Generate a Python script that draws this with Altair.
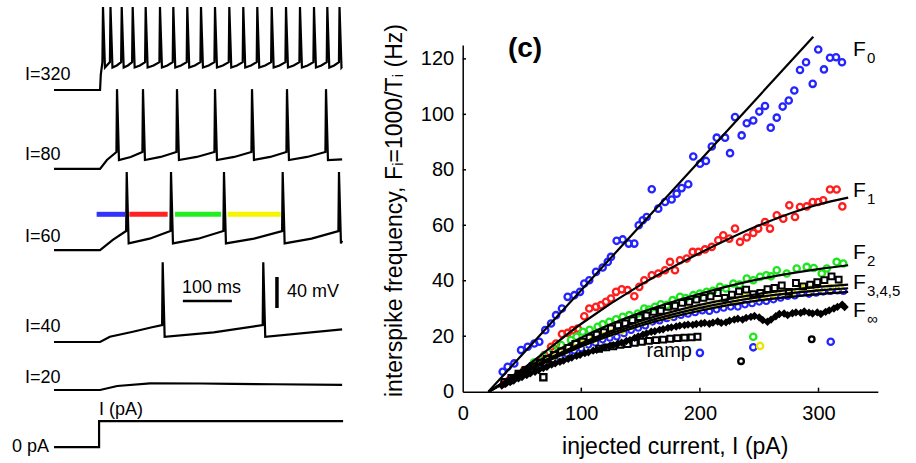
import altair as alt
import pandas as pd

FONT = "Liberation Sans"

# ---------------- figure layout (pixels) ----------------
FIG_W, FIG_H = 916, 463
PLOT_L, PLOT_T = 462.7, 45.0
PLOT_W, PLOT_H = 415.1, 346.7

# ---------------- left panel calibration ----------------
TRACE_X0 = 54.0    # pixel column of t = 0 ms
MS_PX = 0.49       # 100 ms scale bar = 49 px
TRACE_Y0 = 463.0   # pixel row of v = 0
MV_PX = 0.775      # 40 mV scale bar = 31 px
ONSET = 94.0       # current step onset (ms)
T_END = 588.0      # end of sweep (ms)

# ---------------- right panel axes ----------------
I_TICKS = [0, 100, 200, 300]
F_TICKS = [0, 20, 40, 60, 80, 100, 120]
I_MAX, F_MAX = 350, 125

# ---------------- voltage traces ----------------
TRACE_NAMES = ["I=320", "I=80", "I=60", "I=40", "I=20"]
TRACE_REST = [481.3, 379.4, 274.8, 156.1, 94.2]      # vertical offset of each sweep (mV units)
SPIKES_320 = [100.0, 115.3, 138.2, 160.6, 187.1, 216.3, 243.5, 272.0, 300.0, 328.6,
              357.8, 386.3, 414.9, 444.3, 473.5, 502.0, 530.6, 557.8, 582.7]
SPIKES_80 = [128.6, 181.6, 251.0, 328.6, 404.1, 475.5, 555.1]
SPIKES_60 = [148.4, 238.8, 346.9, 466.7, 581.6]
SPIKES_40 = [221.8, 427.1]
# (peak, trough, pre-spike level, end level) relative to rest, mV
LEVELS_320 = (107.0, 29.0, 36.0, 30.0)
LEVELS_80 = (103.0, 11.6, 21.9, 12.5)
LEVELS_60 = (100.6, 8.6, 24.5, 12.0)
LEVELS_40 = (103.0, 6.8, 21.9, 16.3)
ONSET_320 = [(95.5, 20.0)]
ONSET_80 = [(108.0, 11.6)]
ONSET_60 = [(120.0, 13.0), (141.0, 22.0)]
ONSET_40 = [(114.0, 6.8), (161.0, 13.3), (200.0, 19.0)]
TRACE_20 = [(0.0, 0.0), (94.0, 0.0), (129.0, 5.2), (196.0, 8.6), (300.0, 8.4), (366.0, 8.0), (450.0, 7.4), (588.0, 6.5)]
CURRENT_BASE, CURRENT_STEP = 20.6, 33.5
CURRENT_T = [0.0, 92.0, 92.0, 590.0]
CURRENT_ON = [0, 0, 1, 1]

# interval bars on the I=60 sweep
BAR_T0 = [87.0, 153.7, 247.0, 354.5]
BAR_T1 = [145.0, 232.0, 341.0, 462.7]
BAR_COLORS = ["#3333ff", "#ff2222", "#22ee22", "#f5f500"]
BAR_V = 320.9

# scale bars
SCALE_H = dict(t0=263.0, t1=363.0, v=209.0)
SCALE_V = dict(t=455.0, v0=200.0, v1=240.0)

LEFT_LABELS = ["I=320", "I=80", "I=60", "I=40", "I=20", "0 pA", "I (pA)", "100 ms", "40 mV"]
LEFT_LABEL_T = [-59.0, -59.0, -59.0, -59.0, -59.0, -85.7, 91.8, 261.2, 475.5]
LEFT_LABEL_V = [494.2, 391.0, 285.5, 169.4, 102.8, 14.6, 61.9, 219.0, 214.6]

# ---------------- f-I data ----------------
F0 = [(33.7, 7.2), (37.9, 9.0), (43.5, 10.2), (49.2, 15.0), (54.8, 16.2), (60.4, 17.4), (64.6, 18.0),
      (69.6, 22.2), (74.5, 24.6), (78.7, 27.6), (83.7, 30.0), (88.5, 34.2), (94.1, 34.8), (98.9, 36.0),
      (102.5, 39.0), (106.7, 40.2), (112.4, 43.2), (118.0, 44.8), (122.3, 46.8), (125.0, 48.6),
      (129.8, 54.4), (134.9, 54.9), (140.0, 53.4), (144.7, 53.4), (148.4, 60.0), (151.8, 61.8),
      (155.1, 63.0), (159.4, 73.0), (164.9, 66.0), (170.6, 68.4), (176.2, 69.3), (180.4, 71.4),
      (184.6, 73.4), (190.2, 74.8), (194.4, 84.8), (200.1, 82.2), (205.1, 83.2), (210.0, 88.4),
      (214.2, 91.6), (221.2, 91.6), (225.4, 86.0), (229.6, 99.0), (235.2, 92.4), (239.5, 96.8),
      (245.0, 97.8), (250.1, 101.0), (254.9, 103.0), (259.7, 95.2), (264.8, 98.8), (269.8, 102.8),
      (274.9, 105.0), (279.6, 108.6), (284.4, 116.0), (289.5, 118.8), (295.1, 111.0), (299.8, 123.4),
      (304.6, 116.2), (309.7, 120.4), (314.8, 120.6), (319.8, 118.8)]
F1 = [(35.0, 3.0), (39.3, 4.2), (46.4, 6.0), (51.9, 7.8), (57.6, 9.0), (63.2, 10.8), (68.8, 13.2),
      (74.5, 16.2), (78.7, 17.4), (83.7, 20.8), (88.5, 21.2), (92.7, 22.2), (97.0, 22.8), (102.5, 27.2),
      (106.7, 30.0), (112.4, 30.6), (116.6, 31.2), (120.8, 32.4), (125.0, 33.6), (129.3, 36.0),
      (134.1, 36.9), (139.1, 36.6), (144.7, 34.4), (148.9, 37.8), (153.1, 40.2), (159.4, 42.0),
      (164.9, 42.6), (170.6, 43.8), (174.8, 46.8), (179.0, 43.8), (183.2, 47.4), (188.9, 48.0),
      (193.9, 50.4), (198.7, 50.4), (204.3, 51.3), (210.0, 52.2), (215.5, 54.6), (219.7, 56.4),
      (224.8, 55.2), (229.6, 58.8), (233.8, 54.0), (239.5, 55.6), (245.0, 57.2), (249.2, 58.8),
      (254.9, 61.2), (259.1, 58.8), (264.8, 63.6), (270.3, 62.4), (275.4, 67.2), (280.2, 63.0),
      (284.4, 66.6), (290.1, 66.8), (295.1, 68.4), (299.8, 68.4), (304.0, 69.0), (309.7, 72.9),
      (315.3, 72.9), (320.1, 66.8)]
F2 = [(60.0, 10.5), (68.0, 12.8), (75.9, 15.3), (83.0, 16.8), (91.3, 18.6), (96.0, 19.8), (101.2, 21.6),
      (107.0, 22.3), (113.8, 23.4), (118.0, 24.3), (123.6, 25.2), (129.3, 26.1), (134.9, 27.0),
      (140.5, 27.6), (147.5, 28.2), (153.1, 30.0), (157.0, 29.6), (162.1, 30.6), (167.0, 31.5),
      (172.0, 31.2), (177.0, 33.0), (183.2, 34.2), (188.0, 33.8), (194.4, 34.8), (200.0, 35.4),
      (205.7, 36.0), (211.0, 36.4), (216.9, 37.8), (222.0, 37.2), (228.2, 39.0), (233.5, 38.6),
      (239.5, 40.8), (245.0, 40.2), (250.7, 41.4), (256.0, 42.0), (260.0, 41.6), (264.8, 43.8),
      (273.2, 42.6), (281.6, 44.4), (290.1, 45.0), (296.0, 44.6), (302.7, 42.6), (307.0, 44.4),
      (315.3, 46.8), (320.9, 46.2)]
F3 = [(35, 3.5), (41, 5.0), (47, 6.5), (53, 7.8), (59, 9.2), (65, 10.5), (71, 11.8), (77, 13.3),
      (83, 14.5), (89, 15.8), (95, 17.2), (101, 18.0), (107, 19.5), (113, 20.6), (119, 21.5),
      (125, 22.8), (131, 23.9), (137, 24.6), (143, 25.8), (149, 26.9), (155, 27.5), (161, 28.8),
      (167, 29.2), (173, 30.6), (179, 31.0), (185, 32.0), (191, 32.4), (197, 33.2), (203, 33.8),
      (209, 34.4), (215, 35.6), (221, 33.8), (227, 35.0), (233, 36.2), (239, 36.8), (245, 35.2),
      (251, 35.6), (257, 37.0), (263, 37.4), (269, 38.3), (275, 36.0), (281, 39.2), (287, 38.0),
      (293, 38.6), (299, 39.5), (305, 40.2), (311, 41.6), (317, 40.4)]
F4 = [(62, 9.5), (70, 11.3), (78, 13.0), (86, 14.6), (94, 16.0), (102, 17.4), (110, 18.8), (118, 20.2),
      (126, 21.3), (134, 22.0), (142, 23.5), (150, 24.8), (158, 25.6), (166, 26.7), (174, 27.2),
      (182, 28.5), (190, 29.6), (198, 30.2), (206, 31.0), (214, 31.8), (222, 31.9), (230, 33.1),
      (238, 34.5), (246, 33.5), (254, 34.8), (262, 35.2), (270, 35.9), (278, 36.1), (286, 37.2),
      (294, 37.0), (302, 37.2), (310, 37.5), (318, 37.8)]
F5 = [(40, 3.8), (46, 5.2), (52, 6.4), (58, 7.8), (64, 9.0), (70, 10.3), (76, 11.4), (82, 12.4),
      (88, 13.6), (94, 14.8), (100, 15.6), (106, 16.9), (112, 17.6), (118, 18.8), (124, 19.4),
      (130, 19.8), (136, 21.0), (142, 22.2), (148, 23.0), (154, 23.8), (160, 25.2), (166, 25.6),
      (172, 26.4), (178, 26.8), (184, 27.6), (190, 28.0), (196, 28.6), (202, 29.2), (208, 29.0),
      (214, 29.6), (220, 30.2), (226, 30.6), (232, 30.6), (238, 31.4), (244, 31.8), (250, 32.4),
      (256, 32.6), (262, 33.2), (268, 33.8), (274, 34.4), (280, 34.6), (286, 35.6), (292, 35.2),
      (298, 35.6), (304, 36.0), (310, 36.2), (316, 36.4), (321, 36.2)]
FINF = [(33, 2.2), (36, 2.8), (40, 3.5), (43, 4.0), (47, 4.8), (50, 5.3), (54, 6.0), (57, 6.6), (61, 7.2),
        (64, 7.8), (68, 8.5), (71, 9.0), (75, 9.8), (78, 10.2), (82, 10.8), (85, 11.2), (89, 11.9),
        (92, 12.3), (96, 12.9), (99, 13.3), (103, 13.9), (106, 14.2), (110, 14.8), (113, 15.1),
        (117, 15.6), (120, 16.0), (124, 16.5), (127, 16.8), (131, 17.4), (134, 17.7), (138, 18.3),
        (141, 18.6), (145, 19.4), (148, 19.9), (152, 20.6), (155, 21.0), (159, 21.6), (162, 21.8),
        (166, 22.3), (169, 22.5), (173, 23.0), (176, 23.2), (180, 23.5), (183, 23.8), (187, 24.0),
        (190, 24.2), (194, 24.1), (197, 24.4), (201, 24.6), (204, 24.8), (208, 24.5), (211, 24.9),
        (215, 25.3), (218, 24.8), (222, 25.0), (225, 25.6), (229, 26.0), (232, 26.3), (236, 26.0),
        (239, 26.6), (243, 27.0), (246, 27.3), (250, 26.8), (253, 25.8), (257, 25.2), (260, 26.0),
        (264, 27.2), (267, 28.0), (271, 28.2), (274, 27.6), (278, 28.3), (281, 28.6), (285, 28.4),
        (288, 28.9), (292, 28.5), (295, 28.2), (299, 28.6), (302, 28.0), (306, 28.8), (309, 29.3),
        (313, 30.0), (316, 30.6), (320, 31.4), (322, 30.5)]
RAMP = [(115, 15.5), (121, 16.0), (127, 16.4), (133, 16.9), (139, 17.2), (145, 17.6), (151, 18.0),
        (157, 18.3), (163, 18.6), (169, 18.8), (175, 19.1), (181, 19.3), (187, 19.5), (193, 19.6),
        (198, 19.8)]
OUTLIER_BLUE = [(200.0, 14.0), (245.0, 16.0), (310.3, 18.0)]
OUTLIER_GREEN = [(245.0, 19.8)]
OUTLIER_YELLOW = [(250.7, 16.5)]
OUTLIER_BLACK = [(234.7, 11.0), (294.3, 18.9)]
OUTLIER_SQUARE = [(68.0, 5.2)]

FIT_F0 = [(21.6, 0.0), (295.6, 128.0)]
FIT_F1 = [(22, 0.0), (50, 8.0), (100, 24.5), (150, 38.5), (200, 50.0), (250, 60.0), (300, 67.5), (325, 70.0)]
FIT_F2 = [(22, 0.0), (50, 7.5), (100, 19.5), (150, 28.5), (200, 35.3), (250, 40.6), (300, 44.2), (325, 45.6)]
FIT_F3 = [(22, 0.0), (50, 7.0), (100, 17.5), (150, 25.5), (200, 31.3), (250, 35.3), (300, 37.8), (325, 38.6)]
FIT_F4 = [(22, 0.0), (50, 6.8), (100, 16.9), (150, 24.6), (200, 30.2), (250, 34.1), (300, 36.5), (325, 37.3)]
FIT_F5 = [(22, 0.0), (50, 6.5), (100, 16.3), (150, 23.8), (200, 29.2), (250, 32.9), (300, 35.2), (325, 36.0)]

F_LABEL_SUB = ["0", "1", "2", "3,4,5", "∞"]
F_LABEL_F = [121.2, 70.2, 47.7, 37.2, 27.0]
F_LABEL_I = 329.0

BLUE, RED, GREEN, YELLOW = "#2424ff", "#ff1e1e", "#1ee61e", "#e6e600"

# ======================= left panel =======================
def spike_trace(spikes, onset_pts, levels, mid=0.38):
    peak, trough, pre, end_v = levels
    pts = [(0.0, 0.0), (ONSET, 0.0)] + list(onset_pts)
    for k, s in enumerate(spikes):
        pts += [(s - 1.2, pre), (s, peak), (s + 4.0, trough)]
        if k + 1 < len(spikes):
            a, b = s + 4.0, spikes[k + 1] - 1.2
            if b - a > 12:
                pts.append((a + 0.5 * (b - a), trough + mid * (pre - trough)))
    pts.append((T_END, end_v))
    return pts


sweeps = [
    spike_trace(SPIKES_320, ONSET_320, LEVELS_320),
    spike_trace(SPIKES_80, ONSET_80, LEVELS_80),
    spike_trace(SPIKES_60, ONSET_60, LEVELS_60),
    spike_trace(SPIKES_40, ONSET_40, LEVELS_40),
    TRACE_20,
]
rows = []
for name, rest, pts in zip(TRACE_NAMES, TRACE_REST, sweeps):
    for k, (t, v) in enumerate(pts):
        rows.append({"trace": name, "k": k, "t": t, "v": rest + v})
for k, (t, on) in enumerate(zip(CURRENT_T, CURRENT_ON)):
    rows.append({"trace": "current", "k": k, "t": t, "v": CURRENT_BASE + on * CURRENT_STEP})
trace_df = pd.DataFrame(rows)

t_domain = [(PLOT_L - TRACE_X0) / MS_PX, (PLOT_L + PLOT_W - TRACE_X0) / MS_PX]
v_domain = [(TRACE_Y0 - (PLOT_T + PLOT_H)) / MV_PX, (TRACE_Y0 - PLOT_T) / MV_PX]


def sxl():
    return alt.Scale(domain=t_domain, nice=False, zero=False)


def syl():
    return alt.Scale(domain=v_domain, nice=False, zero=False)


traces = alt.Chart(trace_df).mark_line(color="black", strokeWidth=2.2).encode(
    x=alt.X("t:Q", scale=sxl(), axis=None),
    y=alt.Y("v:Q", scale=syl(), axis=None),
    detail="trace:N",
    order="k:Q",
)

bars_df = pd.DataFrame({"t0": BAR_T0, "t1": BAR_T1, "c": BAR_COLORS, "v": [BAR_V] * 4})
bars = alt.Chart(bars_df).mark_rule(strokeWidth=5).encode(
    x=alt.X("t0:Q", scale=sxl(), axis=None), x2="t1:Q",
    y=alt.Y("v:Q", scale=syl(), axis=None),
    color=alt.Color("c:N", scale=None),
)

sb_df = pd.DataFrame({
    "t0": [SCALE_H["t0"], SCALE_V["t"]], "t1": [SCALE_H["t1"], SCALE_V["t"]],
    "v0": [SCALE_H["v"], SCALE_V["v0"]], "v1": [SCALE_H["v"], SCALE_V["v1"]],
    "w": [2.5, 3.5],
})
scalebars = alt.Chart(sb_df).mark_rule(color="black").encode(
    x=alt.X("t0:Q", scale=sxl(), axis=None), x2="t1:Q",
    y=alt.Y("v0:Q", scale=syl(), axis=None), y2="v1:Q",
    strokeWidth=alt.StrokeWidth("w:Q", scale=None),
)

ll_df = pd.DataFrame({"label": LEFT_LABELS, "t": LEFT_LABEL_T, "v": LEFT_LABEL_V})
left_text = alt.Chart(ll_df).mark_text(
    align="left", baseline="alphabetic", fontSize=18, font=FONT, color="black"
).encode(
    x=alt.X("t:Q", scale=sxl(), axis=None),
    y=alt.Y("v:Q", scale=syl(), axis=None),
    text="label:N",
)

left = alt.layer(traces, bars, scalebars, left_text)

# ======================= right panel =======================
AX_X = alt.Axis(values=I_TICKS, title="injected current, I (pA)", orient="bottom", ticks=False, grid=False,
                labelFlush=False, labelFontSize=20, titleFontSize=23, labelPadding=12, titlePadding=12,
                domainColor="black", domainWidth=1.5, labelColor="black", titleColor="black",
                titleFontWeight="normal", labelFont=FONT, titleFont=FONT, titleX=212)
AX_Y = alt.Axis(values=F_TICKS, title="interspike frequency, Fᵢ=1000/Tᵢ (Hz)", orient="left", ticks=False,
                grid=False, labelFontSize=20, titleFontSize=23, labelPadding=9, titlePadding=14,
                domainColor="black", domainWidth=1.5, labelColor="black", titleColor="black",
                titleFontWeight="normal", labelFont=FONT, titleFont=FONT, titleY=165)


def sxr():
    return alt.Scale(domain=[0, I_MAX], nice=False, zero=False)


def syr():
    return alt.Scale(domain=[0, F_MAX], nice=False, zero=False)


def enc(chart, xf="I:Q", yf="F:Q", **kw):
    return chart.encode(x=alt.X(xf, scale=sxr(), axis=AX_X), y=alt.Y(yf, scale=syr(), axis=AX_Y), **kw)


def pts_layer(data, color, shape="circle", filled=False, size=40, sw=2.3):
    df = pd.DataFrame(data, columns=["I", "F"])
    mk = alt.Chart(df).mark_point(shape=shape, filled=filled, color=color, size=size,
                                  strokeWidth=sw, opacity=1)
    return enc(mk)


fits = []
for name, pts in [("F0", FIT_F0), ("F1", FIT_F1), ("F2", FIT_F2), ("F3", FIT_F3), ("F4", FIT_F4), ("F5", FIT_F5)]:
    for k, (i, f) in enumerate(pts):
        fits.append({"s": name, "k": k, "I": i, "F": f})
fit_df = pd.DataFrame(fits)
fit_lines = enc(alt.Chart(fit_df).mark_line(color="black", strokeWidth=2.2, interpolate="monotone"),
                detail="s:N", order="k:Q")

tick_x_df = pd.DataFrame({"I": I_TICKS[1:], "F0": [0.0] * 3, "F1": [1.45] * 3})
tick_x = alt.Chart(tick_x_df).mark_rule(color="black", strokeWidth=1.5).encode(
    x=alt.X("I:Q", scale=sxr(), axis=AX_X), y=alt.Y("F0:Q", scale=syr(), axis=AX_Y), y2="F1:Q")
tick_y_df = pd.DataFrame({"F": F_TICKS[1:], "I0": [0.0] * 6, "I1": [2.8] * 6})
tick_y = alt.Chart(tick_y_df).mark_rule(color="black", strokeWidth=1.5).encode(
    x=alt.X("I0:Q", scale=sxr(), axis=AX_X), x2="I1:Q", y=alt.Y("F:Q", scale=syr(), axis=AX_Y))

fl_df = pd.DataFrame({"I": [F_LABEL_I] * 5, "F": F_LABEL_F, "main": ["F"] * 5, "sub": F_LABEL_SUB})
f_main = enc(alt.Chart(fl_df).mark_text(align="left", baseline="alphabetic", fontSize=21, font=FONT,
                                        color="black"), text="main:N")
f_sub = enc(alt.Chart(fl_df).mark_text(align="left", baseline="alphabetic", fontSize=15, font=FONT,
                                       color="black", dx=14, dy=7), text="sub:N")

ann_df = pd.DataFrame({"I": [52.6], "F": [123.7], "t": ["(c)"]})
panel_c = enc(alt.Chart(ann_df).mark_text(align="center", baseline="middle", fontSize=28, fontWeight="bold",
                                          font=FONT, color="black"), text="t:N")
ramp_df = pd.DataFrame({"I": [174.1], "F": [12.6], "t": ["ramp"]})
ramp_txt = enc(alt.Chart(ramp_df).mark_text(align="center", baseline="alphabetic", fontSize=20,
                                            font=FONT, color="black"), text="t:N")

right = alt.layer(
    pts_layer(F0, BLUE),
    pts_layer(F1, RED),
    pts_layer(F2, GREEN),
    pts_layer(F5, BLUE, size=32, sw=2.0),
    pts_layer(F4, YELLOW, size=32, sw=2.0),
    pts_layer(F3, "black", shape="square", size=34, sw=2.0),
    pts_layer(FINF, "black", shape="diamond", filled=True, size=70),
    pts_layer(RAMP, "black", shape="square", size=34, sw=2.0),
    pts_layer(OUTLIER_BLUE, BLUE),
    pts_layer(OUTLIER_GREEN, GREEN),
    pts_layer(OUTLIER_YELLOW, YELLOW),
    pts_layer(OUTLIER_BLACK, "black", size=32),
    pts_layer(OUTLIER_SQUARE, "black", shape="square", size=38),
    fit_lines, tick_x, tick_y, f_main, f_sub, panel_c, ramp_txt,
)

chart = alt.layer(right, left).resolve_scale(x="independent", y="independent").properties(
    width=PLOT_W, height=PLOT_H,
    padding={"left": PLOT_L, "top": PLOT_T, "right": FIG_W - PLOT_L - PLOT_W, "bottom": FIG_H - PLOT_T - PLOT_H},
    autosize=alt.AutoSizeParams(type="none"),
    background="white",
).configure_view(stroke=None)

chart.save("out.html", embed_options={"renderer": "svg", "actions": False})
